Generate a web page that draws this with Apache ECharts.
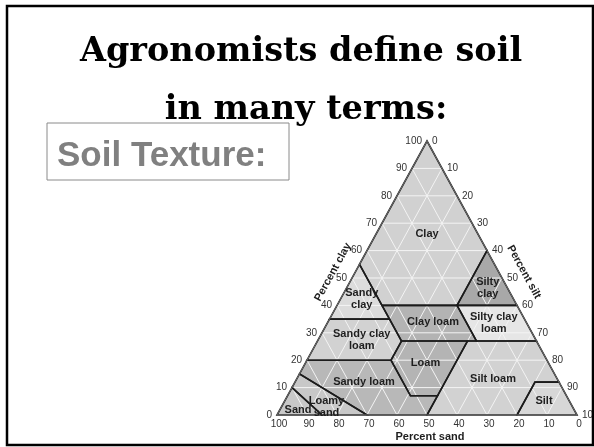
<!DOCTYPE html>
<html>
<head>
<meta charset="utf-8">
<script src="https://cdn.jsdelivr.net/npm/echarts@6/dist/echarts.min.js"></script>
<style>
html,body{margin:0;padding:0;background:#fff;}
#chart{width:594px;height:447px;}
</style>
</head>
<body>
<div id="chart"></div>
<script>
// ---- Data (ternary points are [sand, silt, clay] in percent) ----
const titleLines = ['Agronomists define soil', 'in many terms:'];
const subtitle = 'Soil Texture:';

const regionNames = ['Clay','Sandy clay','Silty clay','Clay loam','Silty clay loam','Sandy clay loam','Loam','Silt loam','Sandy loam','Loamy sand','Sand','Silt'];
const regionLabels = ['Clay','Sandy\nclay','Silty\nclay','Clay loam','Silty clay\nloam','Sandy clay\nloam','Loam','Silt loam','Sandy loam','Loamy\nsand','Sand','Silt'];
const regionVertices = [
  [[0,0,100],[0,40,60],[20,40,40],[45,15,40],[45,0,55]],
  [[45,0,55],[45,20,35],[65,0,35]],
  [[0,40,60],[0,60,40],[20,40,40]],
  [[20,40,40],[45,15,40],[45,28,27],[20,53,27]],
  [[0,60,40],[0,73,27],[20,53,27],[20,40,40]],
  [[45,20,35],[65,0,35],[80,0,20],[52,28,20],[45,28,27]],
  [[45,28,27],[52,28,20],[52,41,7],[43,50,7],[23,50,27]],
  [[23,50,27],[0,73,27],[0,88,12],[8,80,12],[20,80,0],[50,50,0],[43,50,7]],
  [[80,0,20],[85,0,15],[70,30,0],[50,50,0],[43,50,7],[52,41,7],[52,28,20]],
  [[85,0,15],[90,0,10],[85,15,0],[70,30,0]],
  [[90,0,10],[100,0,0],[85,15,0]],
  [[0,88,12],[0,100,0],[20,80,0],[8,80,12]]
];
const regionLabelAt = [
  [17,17,66],[50.5,7,42.5],[6.5,47,46.5],[31,35,34],[11,55.5,33.5],[58,14.5,27.5],
  [41,40,19],[21.5,65.5,13],[65,23,12],[82,15,3],[92,6,2],[8.5,86.5,5]
];
const regionColors = ['#d1d1d1','#dcdcdc','#a8a8a8','#b3b3b3','#e6e6e6','#d2d2d2','#b4b4b4','#d2d2d2','#b8b8b8','#c8c8c8','#c8c8c8','#d7d7d7'];

const tickValues = [0,10,20,30,40,50,60,70,80,90,100];
const gridLevels = [10,20,30,40,50,60,70,80,90];
const axisNames = ['Percent clay','Percent silt','Percent sand'];

// ---- Helpers ----
function toXY(p){ // [sand, silt, clay] -> cartesian (x: 0..100, y: clay)
  return [p[1] + p[2] / 2, p[2]];
}

const chart = echarts.init(document.getElementById('chart'), null, {renderer:'canvas'});
const FONT = '"Liberation Sans", Arial, sans-serif';

function regionFill(params, api){
  const i = api.value(0);
  return {type:'polygon', shape:{points: regionVertices[i].map(v => api.coord(toXY(v)))},
    style:{fill: regionColors[i], stroke:'none'}};
}
function regionBorder(params, api){
  const i = api.value(0);
  return {type:'polygon', shape:{points: regionVertices[i].map(v => api.coord(toXY(v)))},
    style:{fill:'none', stroke:'#1c1c1c', lineWidth:1.6, lineJoin:'miter'}};
}
function gridLine(params, api){
  const kind = api.value(0), l = api.value(1);
  let a, b;
  if (kind === 0) { a = [100-l,0,l]; b = [0,100-l,l]; }        // clay
  else if (kind === 1) { a = [l,100-l,0]; b = [l,0,100-l]; }   // sand
  else { a = [100-l,l,0]; b = [0,l,100-l]; }                   // silt
  const p1 = api.coord(toXY(a)), p2 = api.coord(toXY(b));
  return {type:'line', shape:{x1:p1[0],y1:p1[1],x2:p2[0],y2:p2[1]},
    style:{stroke:'#f4f4f4', lineWidth:1}};
}
function outline(params, api){
  const pts = [[100,0,0],[0,100,0],[0,0,100]].map(v => api.coord(toXY(v)));
  return {type:'polygon', shape:{points:pts}, style:{fill:'none', stroke:'#6e6e6e', lineWidth:1}};
}
function regionText(params, api){
  const i = api.value(0);
  const p = api.coord(toXY(regionLabelAt[i]));
  return {type:'text', x:p[0], y:p[1], style:{text: regionLabels[i], fill:'#1e1e1e',
    font:'bold 11px ' + FONT, align:'center', verticalAlign:'middle', lineHeight:12}};
}
function tickText(params, api){
  const side = api.value(0), v = api.value(1);
  let pt, dx, dy, align;
  if (side === 0) { pt = [100-v,0,v]; dx = -5; dy = 0; align = 'right'; }     // clay, left edge
  else if (side === 1) { pt = [0,v,100-v]; dx = 5; dy = 0; align = 'left'; }  // silt, right edge
  else { pt = [v,100-v,0]; dx = 2; dy = 9; align = 'center'; }                // sand, base
  const p = api.coord(toXY(pt));
  return {type:'text', x:p[0]+dx, y:p[1]+dy, style:{text:String(v), fill:'#333',
    font:'10px ' + FONT, align:align, verticalAlign:'middle'}};
}
function axisNameText(params, api){
  const k = api.value(0);
  const ang = Math.atan2(274, 150);
  let pt, dx, dy, rot;
  if (k === 0) { pt = [50,0,50]; dx = -19; dy = -6; rot = ang; }
  else if (k === 1) { pt = [0,50,50]; dx = 22; dy = -6; rot = -ang; }
  else { pt = [50,50,0]; dx = 3; dy = 22; rot = 0; }
  const p = api.coord(toXY(pt));
  return {type:'text', x:p[0]+dx, y:p[1]+dy, rotation:rot, style:{text: axisNames[k], fill:'#1e1e1e',
    font:'bold 11px ' + FONT, align:'center', verticalAlign:'middle'}};
}

const regionData = regionNames.map((n,i) => ({name:n, value:[i]}));
const gridData = [];
[0,1,2].forEach(k => gridLevels.forEach(l => gridData.push([k,l])));
const tickData = [];
[0,1,2].forEach(s => tickValues.forEach(v => tickData.push([s,v])));

chart.setOption({
  animation:false,
  backgroundColor:'#ffffff',
  grid:{left:277, top:141, width:300, height:274},
  xAxis:{type:'value', min:0, max:100, show:false},
  yAxis:{type:'value', min:0, max:100, show:false},
  graphic:[
    {type:'rect', shape:{x:7, y:6, width:586, height:439}, style:{fill:'none', stroke:'#000', lineWidth:2.5}, z:10},
    {type:'rect', shape:{x:47, y:123, width:242, height:57}, style:{fill:'none', stroke:'#8a8a8a', lineWidth:1}, z:10},
    {type:'text', x:301, y:52, style:{text:titleLines[0], font:'bold 33.5px "DejaVu Serif", serif', fill:'#000', align:'center', verticalAlign:'middle'}, z:11},
    {type:'text', x:306, y:110, style:{text:titleLines[1], font:'bold 33.5px "DejaVu Serif", serif', fill:'#000', align:'center', verticalAlign:'middle'}, z:11},
    {type:'text', x:57, y:156, style:{text:subtitle, font:'bold 35px ' + FONT, fill:'#808080', align:'left', verticalAlign:'middle'}, z:11}
  ],
  series:[
    {type:'custom', name:'fill', coordinateSystem:'cartesian2d', renderItem:regionFill, data:regionData, z:1, silent:true},
    {type:'custom', name:'grid', coordinateSystem:'cartesian2d', renderItem:gridLine, data:gridData, z:2, silent:true},
    {type:'custom', name:'border', coordinateSystem:'cartesian2d', renderItem:regionBorder, data:regionData, z:3, silent:true},
    {type:'custom', name:'outline', coordinateSystem:'cartesian2d', renderItem:outline, data:[[0]], z:4, silent:true},
    {type:'custom', name:'labels', coordinateSystem:'cartesian2d', renderItem:regionText, data:regionData, z:5, silent:true},
    {type:'custom', name:'ticks', coordinateSystem:'cartesian2d', renderItem:tickText, data:tickData, z:5, silent:true, clip:false},
    {type:'custom', name:'axisNames', coordinateSystem:'cartesian2d', renderItem:axisNameText, data:[[0],[1],[2]], z:5, silent:true, clip:false}
  ]
});
</script>
</body>
</html>
